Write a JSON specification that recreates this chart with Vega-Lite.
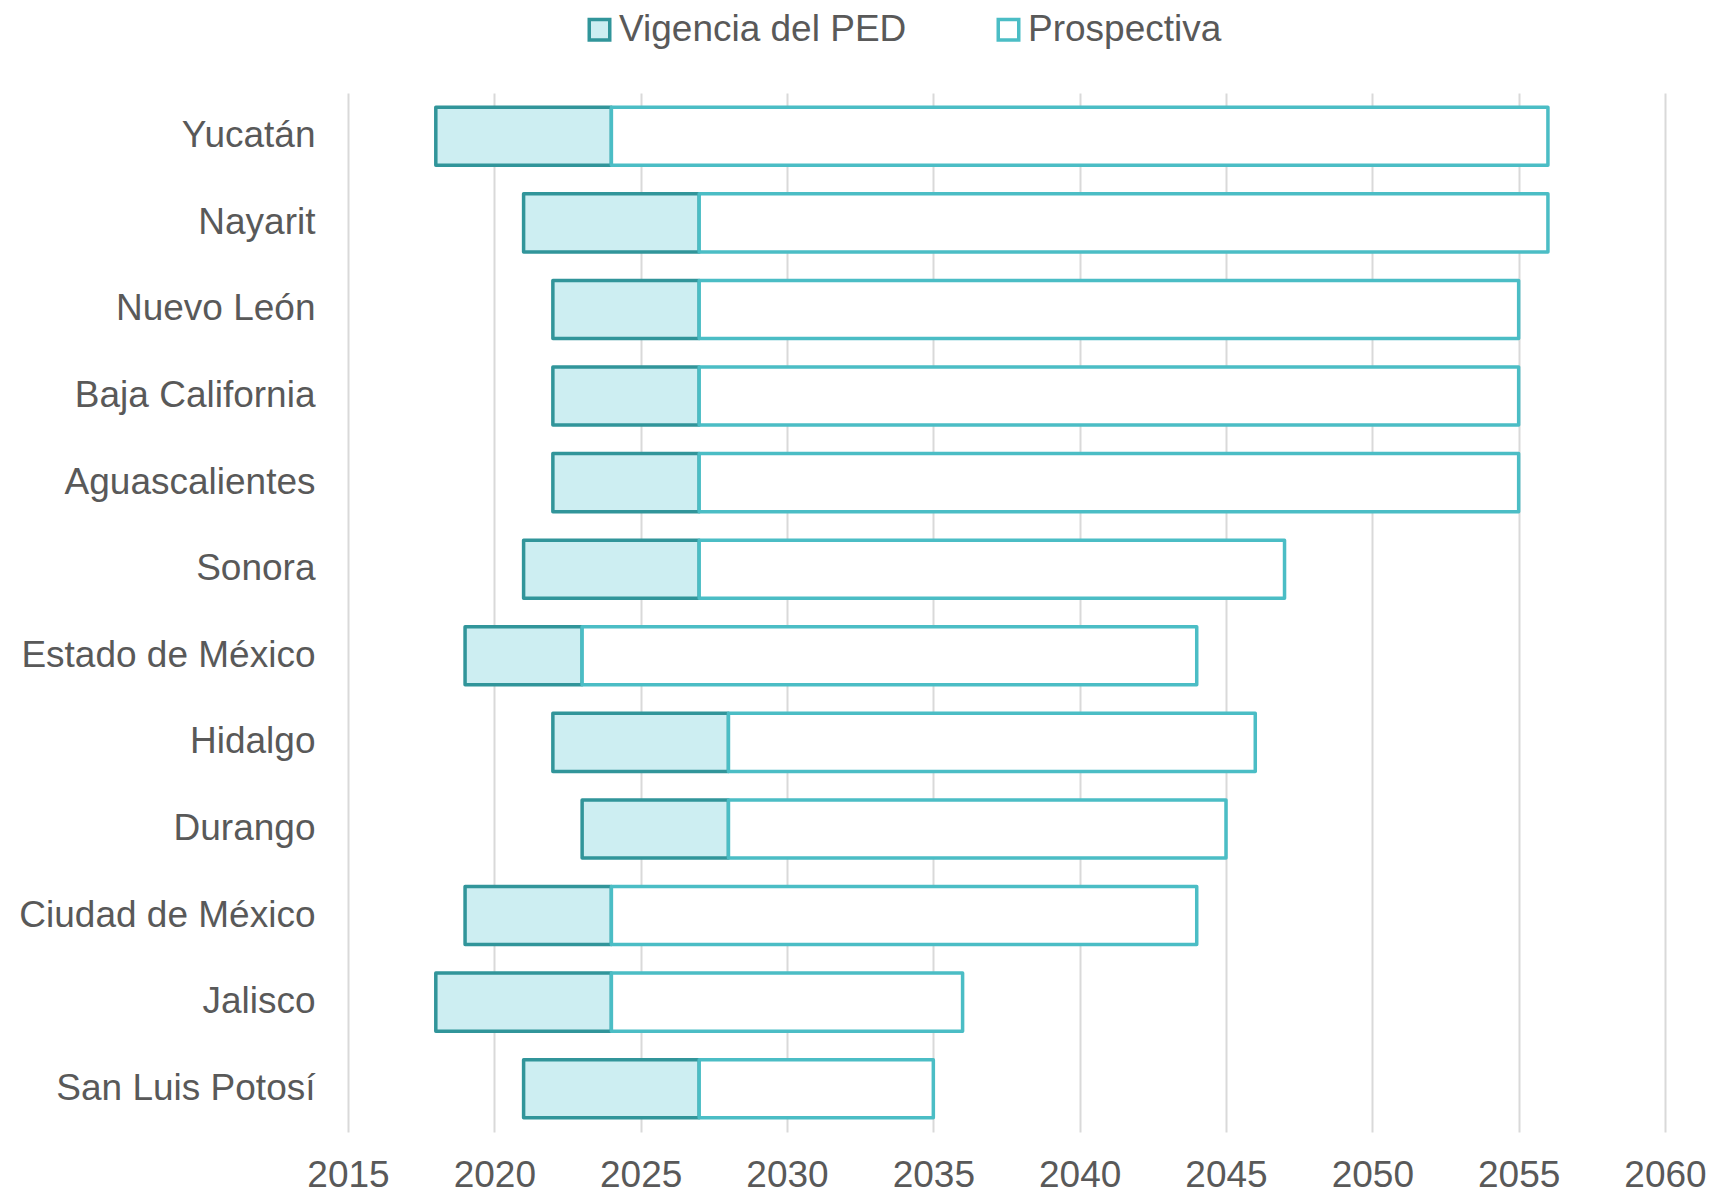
{
  "$schema": "https://vega.github.io/schema/vega-lite/v6.json",
  "autosize": "none",
  "width": 1317,
  "height": 1039,
  "padding": {"left": 348, "top": 93, "right": 46, "bottom": 61},
  "background": "white",
  "config": {
    "font": "Liberation Sans",
    "view": {"stroke": null}
  },
  "data": {
    "values": [
      {"estado": "Yucatán", "serie": "Vigencia del PED", "inicio": 2018, "fin": 2024},
      {"estado": "Nayarit", "serie": "Vigencia del PED", "inicio": 2021, "fin": 2027},
      {"estado": "Nuevo León", "serie": "Vigencia del PED", "inicio": 2022, "fin": 2027},
      {"estado": "Baja California", "serie": "Vigencia del PED", "inicio": 2022, "fin": 2027},
      {"estado": "Aguascalientes", "serie": "Vigencia del PED", "inicio": 2022, "fin": 2027},
      {"estado": "Sonora", "serie": "Vigencia del PED", "inicio": 2021, "fin": 2027},
      {"estado": "Estado de México", "serie": "Vigencia del PED", "inicio": 2019, "fin": 2023},
      {"estado": "Hidalgo", "serie": "Vigencia del PED", "inicio": 2022, "fin": 2028},
      {"estado": "Durango", "serie": "Vigencia del PED", "inicio": 2023, "fin": 2028},
      {"estado": "Ciudad de México", "serie": "Vigencia del PED", "inicio": 2019, "fin": 2024},
      {"estado": "Jalisco", "serie": "Vigencia del PED", "inicio": 2018, "fin": 2024},
      {"estado": "San Luis Potosí", "serie": "Vigencia del PED", "inicio": 2021, "fin": 2027},
      {"estado": "Yucatán", "serie": "Prospectiva", "inicio": 2024, "fin": 2056},
      {"estado": "Nayarit", "serie": "Prospectiva", "inicio": 2027, "fin": 2056},
      {"estado": "Nuevo León", "serie": "Prospectiva", "inicio": 2027, "fin": 2055},
      {"estado": "Baja California", "serie": "Prospectiva", "inicio": 2027, "fin": 2055},
      {"estado": "Aguascalientes", "serie": "Prospectiva", "inicio": 2027, "fin": 2055},
      {"estado": "Sonora", "serie": "Prospectiva", "inicio": 2027, "fin": 2047},
      {"estado": "Estado de México", "serie": "Prospectiva", "inicio": 2023, "fin": 2044},
      {"estado": "Hidalgo", "serie": "Prospectiva", "inicio": 2028, "fin": 2046},
      {"estado": "Durango", "serie": "Prospectiva", "inicio": 2028, "fin": 2045},
      {"estado": "Ciudad de México", "serie": "Prospectiva", "inicio": 2024, "fin": 2044},
      {"estado": "Jalisco", "serie": "Prospectiva", "inicio": 2024, "fin": 2036},
      {"estado": "San Luis Potosí", "serie": "Prospectiva", "inicio": 2027, "fin": 2035}
    ]
  },
  "mark": {"type": "bar", "strokeWidth": 3.5, "strokeJoin": "round"},
  "encoding": {
    "y": {
      "field": "estado",
      "type": "nominal",
      "sort": null,
      "scale": {"paddingInner": 0.33, "paddingOuter": 0.165},
      "axis": {
        "title": null,
        "domain": false,
        "ticks": false,
        "labelFontSize": 37,
        "labelColor": "#595959",
        "labelPadding": 33,
        "labelLimit": 500
      }
    },
    "x": {
      "field": "inicio",
      "type": "quantitative",
      "scale": {"domain": [2015, 2060], "nice": false, "zero": false},
      "axis": {
        "title": null,
        "values": [2015, 2020, 2025, 2030, 2035, 2040, 2045, 2050, 2055, 2060],
        "format": "d",
        "domain": false,
        "ticks": false,
        "grid": true,
        "gridColor": "#d9d9d9",
        "gridWidth": 2,
        "labelFontSize": 37,
        "labelColor": "#595959",
        "labelPadding": 25,
        "labelFlush": false
      }
    },
    "x2": {"field": "fin"},
    "fill": {
      "field": "serie",
      "type": "nominal",
      "sort": ["Vigencia del PED", "Prospectiva"],
      "scale": {"domain": ["Vigencia del PED", "Prospectiva"], "range": ["#cdeef2", "#ffffff"]},
      "legend": {
        "title": null,
        "orient": "none",
        "direction": "horizontal",
        "legendX": 233,
        "legendY": -82,
        "symbolType": "square",
        "symbolSize": 420,
        "symbolStrokeWidth": 3.5,
        "labelFontSize": 37,
        "labelColor": "#595959",
        "labelOffset": 1,
        "labelLimit": 600,
        "columnPadding": 83
      }
    },
    "stroke": {
      "field": "serie",
      "type": "nominal",
      "sort": ["Vigencia del PED", "Prospectiva"],
      "scale": {"domain": ["Vigencia del PED", "Prospectiva"], "range": ["#31959a", "#4bbdc5"]},
      "legend": {
        "title": null,
        "orient": "none",
        "direction": "horizontal",
        "legendX": 233,
        "legendY": -82,
        "symbolType": "square",
        "symbolSize": 420,
        "symbolStrokeWidth": 3.5,
        "labelFontSize": 37,
        "labelColor": "#595959",
        "labelOffset": 1,
        "labelLimit": 600,
        "columnPadding": 83
      }
    }
  }
}
